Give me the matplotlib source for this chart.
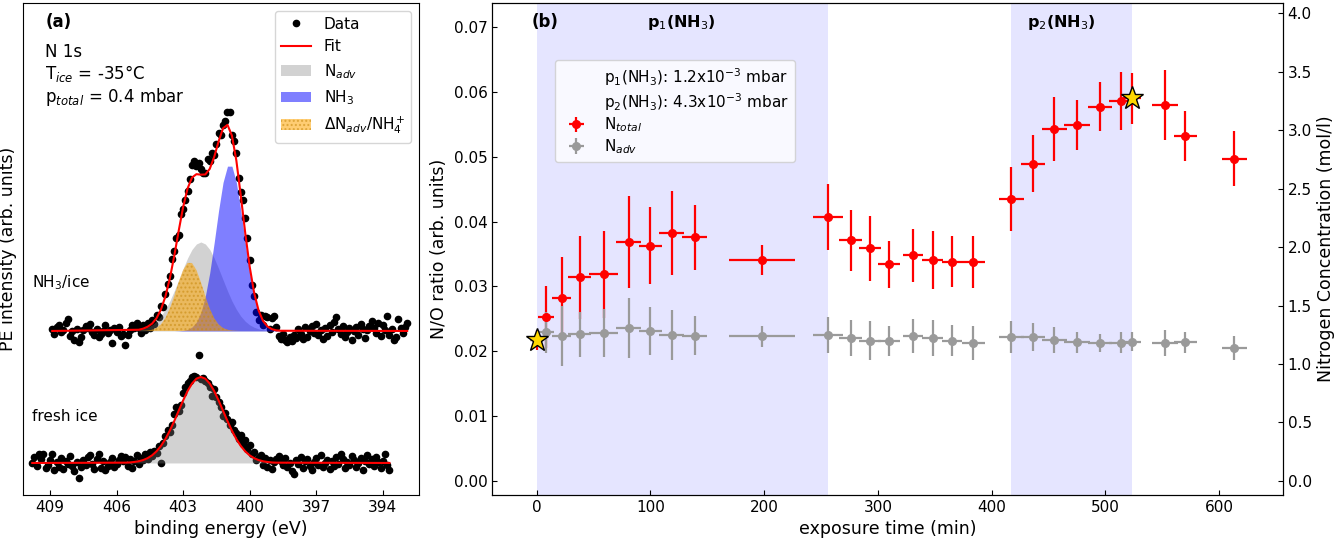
import numpy as np
import matplotlib
matplotlib.use("Agg")
import matplotlib.pyplot as plt
from matplotlib.lines import Line2D

# ---- (a) N 1s spectra: intensity above each baseline (arb. units) ----
# measured on a 0.1 eV grid, NH3/ice from 408.9 eV, fresh ice from 409.8 eV
nh3_start, fresh_start, e_step = 408.9, 409.8, 0.1
nh3_counts = [
    2, -3, 4, 6, -1, 1, 8, 12, -5, 0, -9, 2, -11, -6, 1, 5, 3, 7, -1, -4,
    2, -6, -3, 0, 6, -2, 1, -12, 3, -1, 4, -5, -3, -14, -4, 1, 6, 3, 8,
    3, -2, 6, 1, 8, 3, 11, 7, 16, 14,
    25, 24, 37, 47, 55, 72, 80, 93, 96, 117,
    122, 131, 140, 152, 166, 170, 165, 168, 162, 158,
    158, 172, 170, 178, 176, 187, 198, 196, 206, 210,
    219, 219, 196, 190, 178, 153, 139, 131, 113, 93,
    71, 46, 35, 19, 11, 16, 6, 15, 14, 2,
    13, 15, 4, -5, -8,
    -3, -9, -11, -6, -10, -4, -7, 2, -3, -8, 4, -6, 0, 5, -2, 7, -4, 1, -8, 3,
    -5, 6, -1, 9, 14, 2, -3, 5, -6, -1, 3, -9, 0, 4, -4, 7, 2, -7, 1, 5,
    10, 3, -2, 8, -5, 6, 1, 15, -4, 2, -9, -6, 12, 3, -2, 4, 8,
]
fresh_counts = [
    0, 6, -3, 9, 4, 9, -5, -2, 3, 9, -7, 1, -4, 5, -6, 2, -1, 7, -3, -8,
    1, -15, -4, 3, -2, 6, 8, -1, -6, 4, 9, -5, 2, -7, -3, 1, 5, -4, -1, 3, 7, 2,
    6, -3, 4, -5, 2, 8, -1, 5, 3, 9,
    4, 11, 7, 12, 10, 17, 0, 20, 27, 33,
    31, 38, 49, 56, 52, 58, 70, 76, 80, 82,
    86, 87, 86, 108, 84, 85, 82, 80, 76, 67,
    74, 66, 61, 56, 47, 50, 44, 38, 41, 33,
    30, 24, 28, 19, 23, 14, 18, 9, 11, 3,
    6, 8, -2, 5, -4, 3, -6, 1, 4,
    7, 2, -2, 5, -4, 0, -8, -11, 3, -1, 6, -5, 2, 4, -3, -7, 1, 5, -2, 8,
    -4, 0, 3, -6, 2, -3, 6, -1, 9, 4, -5, 1, -2, 7, 3, -4, 0, 5, -7, 2,
    8, -1, 4, -3, 6, 1, -5, 2, 9, -2, -7,
]

# fitted components, 0.2 eV grid
comp_e = np.round(np.arange(405.0, 398.55, -0.2), 1)
nadv_nh3 = [1.2, 2.1, 3.7, 6.1, 9.7, 14.8, 21.6, 30.0, 40.1, 51.1, 62.4, 72.9,
            81.5, 87.0, 89.0, 87.0, 81.5, 72.9, 62.4, 51.1, 40.1, 30.0, 21.6,
            14.8, 9.7, 6.1, 3.7, 2.1, 1.2, 0.6, 0.3, 0.1, 0.0]
nh3_comp = [0, 0, 0, 0, 0, 0, 0, 0, 0, 0.2, 0.5, 1.5, 3.9, 8.9, 18.5, 34.6,
            58.2, 88.3, 120.6, 148.6, 164.8, 164.8, 148.6, 120.6, 88.3, 58.2,
            34.6, 18.5, 8.9, 3.9, 1.5, 0.5, 0.2]
nh4_comp = [0.0, 0.2, 0.5, 1.2, 3.0, 6.6, 12.8, 22.4, 34.9, 48.8, 60.9, 68.0,
            68.0, 60.9, 48.8, 34.9, 22.4, 12.8, 6.6, 3.0, 1.2, 0.5, 0.2,
            0, 0, 0, 0, 0, 0, 0, 0, 0, 0]
fresh_e = np.round(np.arange(405.6, 398.75, -0.2), 1)
nadv_fresh = [0.3, 0.5, 1.0, 1.7, 2.9, 4.8, 7.6, 11.6, 17.0, 23.9, 32.3, 41.9,
              52.2, 62.5, 71.9, 79.4, 84.3, 86.0, 84.3, 79.4, 71.9, 62.5, 52.2,
              41.9, 32.3, 23.9, 17.0, 11.6, 7.6, 4.8, 2.9, 1.7, 1.0, 0.5, 0.3]

# ---- (b) N/O ratio vs exposure time ----
t_min = [0, 8, 22, 38, 59, 81, 100, 119, 139, 198, 256, 276, 293, 310, 331,
         348, 365, 384, 417, 436, 455, 475, 495, 514, 523, 552, 570, 613]
t_err = [6, 7, 8, 10, 12.5, 11, 10, 11, 11, 29, 13, 10, 10, 9.5, 9, 9, 9, 10,
         11, 10.5, 11, 11.5, 10.5, 10.5, 8, 11.5, 10, 11]
n_total = [0.0217, 0.0253, 0.0282, 0.0314, 0.0319, 0.0368, 0.0363, 0.0382,
           0.0376, 0.0341, 0.0407, 0.0371, 0.0359, 0.0334, 0.0348, 0.0341,
           0.0338, 0.0338, 0.0435, 0.0489, 0.0543, 0.0549, 0.0577, 0.0586,
           0.0590, 0.0579, 0.0532, 0.0497]
n_total_err = [0.0015, 0.0048, 0.0064, 0.0064, 0.0067, 0.0071, 0.0059, 0.0065,
               0.0050, 0.0023, 0.0051, 0.0047, 0.0050, 0.0036, 0.0041, 0.0045,
               0.0039, 0.0040, 0.0049, 0.0044, 0.0049, 0.0039, 0.0038, 0.0045,
               0.0039, 0.0054, 0.0038, 0.0042]
n_adv = [0.0218, 0.0229, 0.0224, 0.0226, 0.0228, 0.0236, 0.0231, 0.0225,
         0.0224, 0.0223, 0.0225, 0.0220, 0.0216, 0.0216, 0.0224, 0.0220,
         0.0216, 0.0213, 0.0222, 0.0222, 0.0218, 0.0214, 0.0213, 0.0213,
         0.0215, 0.0212, 0.0214, 0.0205]
n_adv_err = [0.0010, 0.0032, 0.0046, 0.0035, 0.0037, 0.0046, 0.0037, 0.0038,
             0.0030, 0.0016, 0.0028, 0.0028, 0.0030, 0.0023, 0.0026, 0.0028,
             0.0024, 0.0026, 0.0025, 0.0021, 0.0020, 0.0016, 0.0014, 0.0016,
             0.0014, 0.0020, 0.0016, 0.0018]
star_t = [0, 523]
star_no = [0.0217, 0.0590]
p1_window = (0, 256)
p2_window = (417, 523)

# ---- figure ----
fig = plt.figure(figsize=(13.35, 5.38), dpi=100)
ax_a = fig.add_axes([0.0172, 0.080, 0.2966, 0.9145])
ax_b = fig.add_axes([0.3689, 0.080, 0.5919, 0.9145])
ax_c = ax_b.twinx()

# ---- panel (a) ----
NH3_OFF, FRESH_OFF = 164, 32
e_nh3 = nh3_start - e_step * np.arange(len(nh3_counts))
e_fresh = fresh_start - e_step * np.arange(len(fresh_counts))

ax_a.plot(e_nh3, np.array(nh3_counts) + NH3_OFF, "o", color="black", ms=4.5,
          ls="none", zorder=1, label="Data")
ax_a.plot(e_fresh, np.array(fresh_counts) + FRESH_OFF, "o", color="black",
          ms=4.5, ls="none", zorder=1)

ax_a.fill_between(comp_e, NH3_OFF, np.array(nadv_nh3) + NH3_OFF, color="gray",
                  alpha=0.35, lw=0, zorder=2, label=r"N$_{adv}$")
ax_a.fill_between(comp_e, NH3_OFF, np.array(nh3_comp) + NH3_OFF, color="blue",
                  alpha=0.5, lw=0, zorder=2, label=r"NH$_3$")
ax_a.fill_between(comp_e, NH3_OFF, np.array(nh4_comp) + NH3_OFF,
                  facecolor="orange", edgecolor="#c88a10", hatch="....",
                  alpha=0.55, lw=0, zorder=2, label=r"$\Delta$N$_{adv}$/NH$_4^+$")
ax_a.fill_between(fresh_e, FRESH_OFF, np.array(nadv_fresh) + FRESH_OFF,
                  color="gray", alpha=0.35, lw=0, zorder=2)

fit_nh3 = np.array(nadv_nh3) + np.array(nh3_comp) + np.array(nh4_comp)
ax_a.plot(np.r_[e_nh3[0], comp_e, e_nh3[-1]], np.r_[0, fit_nh3, 0] + NH3_OFF,
          color="red", lw=1.5, zorder=3, label="Fit")
ax_a.plot(np.r_[e_fresh[0], fresh_e, e_fresh[-1]],
          np.r_[0, nadv_fresh, 0] + FRESH_OFF, color="red", lw=1.5, zorder=3)

ax_a.set_xlim(410.22, 392.37)
ax_a.set_ylim(0, 492)
ax_a.set_xticks([409, 406, 403, 400, 397, 394])
ax_a.set_yticks([])
ax_a.tick_params(direction="in", labelsize=11)
ax_a.set_xlabel("binding energy (eV)", fontsize=12.5)
ax_a.set_ylabel("PE intensity (arb. units)", fontsize=12.5)

ax_a.text(0.056, 0.961, "(a)", transform=ax_a.transAxes, fontsize=12,
          fontweight="bold", va="center")
ax_a.text(0.056, 0.918, "N 1s\nT$_{ice}$ = -35°C\np$_{total}$ = 0.4 mbar",
          transform=ax_a.transAxes, fontsize=12, va="top", linespacing=1.1)
ax_a.text(0.023, 0.431, "NH$_3$/ice", transform=ax_a.transAxes, fontsize=11,
          va="center")
ax_a.text(0.023, 0.159, "fresh ice", transform=ax_a.transAxes, fontsize=11,
          va="center")

h, l = ax_a.get_legend_handles_labels()
order = [l.index(k) for k in ["Data", "Fit", r"N$_{adv}$", r"NH$_3$",
                              r"$\Delta$N$_{adv}$/NH$_4^+$"]]
ax_a.legend([h[i] for i in order], [l[i] for i in order], loc="upper right",
            fontsize=11)

# ---- panel (b) ----
ax_b.axvspan(*p1_window, color="blue", alpha=0.1, lw=0, zorder=0)
ax_b.axvspan(*p2_window, color="blue", alpha=0.1, lw=0, zorder=0)

eb_tot = ax_b.errorbar(t_min, n_total, xerr=t_err, yerr=n_total_err, fmt="o",
                       color="red", ms=5.5, elinewidth=1.6, capsize=0,
                       label=r"N$_{total}$", zorder=3)
eb_adv = ax_b.errorbar(t_min, n_adv, xerr=t_err, yerr=n_adv_err, fmt="o",
                       color="#9a9a9a", ms=5.5, elinewidth=1.6, capsize=0,
                       label=r"N$_{adv}$", zorder=3)
ax_b.plot(star_t, star_no, ls="none", marker="*", ms=17, mfc="gold",
          mec="black", mew=1, zorder=5)

ax_b.set_xlim(-38.7, 655.7)
ax_b.set_ylim(-0.00216, 0.0737)
ax_b.set_yticks(np.arange(0, 0.071, 0.01))
ax_b.set_xticks([0, 100, 200, 300, 400, 500, 600])
ax_b.tick_params(direction="in", labelsize=11)
ax_b.set_xlabel("exposure time (min)", fontsize=12.5)
ax_b.set_ylabel("N/O ratio (arb. units)", fontsize=12.5)

ax_c.set_ylim(-0.12, 4.088)
ax_c.set_yticks(np.arange(0, 4.01, 0.5))
ax_c.tick_params(direction="in", labelsize=11)
ax_c.set_ylabel("Nitrogen Concentration (mol/l)", fontsize=12.5)

ax_b.text(0.05, 0.961, "(b)", transform=ax_b.transAxes, fontsize=12,
          fontweight="bold", va="center")
ax_b.text(0.2394, 0.961, "p$_1$(NH$_3$)", transform=ax_b.transAxes,
          fontsize=11.5, fontweight="bold", va="center", ha="center")
ax_b.text(0.7203, 0.961, "p$_2$(NH$_3$)", transform=ax_b.transAxes,
          fontsize=11.5, fontweight="bold", va="center", ha="center")

blank1 = Line2D([], [], ls="none")
blank2 = Line2D([], [], ls="none")
ax_b.legend([blank1, blank2, eb_tot, eb_adv],
            [r"p$_1$(NH$_3$): 1.2x10$^{-3}$ mbar",
             r"p$_2$(NH$_3$): 4.3x10$^{-3}$ mbar",
             r"N$_{total}$", r"N$_{adv}$"],
            loc="upper left", bbox_to_anchor=(0.079, 0.884), borderaxespad=0,
            fontsize=11, labelspacing=0.2)

fig.savefig("out.png", dpi=100)
